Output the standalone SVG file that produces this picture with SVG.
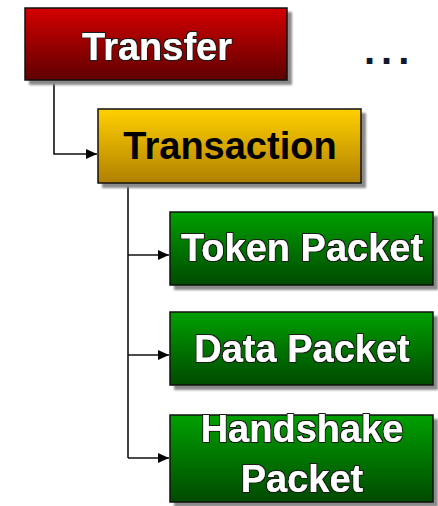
<svg xmlns="http://www.w3.org/2000/svg" width="438" height="506" viewBox="0 0 438 506">
  <defs>
    <linearGradient id="gRed" x1="0" y1="0" x2="0" y2="1">
      <stop offset="0" stop-color="#d40000"/>
      <stop offset="1" stop-color="#5e0000"/>
    </linearGradient>
    <linearGradient id="gGold" x1="0" y1="0" x2="0" y2="1">
      <stop offset="0" stop-color="#ffd000"/>
      <stop offset="1" stop-color="#b08000"/>
    </linearGradient>
    <linearGradient id="gGreen" x1="0" y1="0" x2="0" y2="1">
      <stop offset="0" stop-color="#00a000"/>
      <stop offset="1" stop-color="#004a00"/>
    </linearGradient>
    <filter id="shadow" x="-10%" y="-10%" width="130%" height="140%">
      <feGaussianBlur stdDeviation="1.2"/>
    </filter>
    <filter id="glow" x="-5%" y="-20%" width="110%" height="140%">
      <feMorphology in="SourceAlpha" operator="dilate" radius="0.8" result="thick"/>
      <feGaussianBlur in="thick" stdDeviation="0.6" result="blur"/>
      <feFlood flood-color="#1a1a1a"/>
      <feComposite in2="blur" operator="in" result="edge"/>
      <feMerge>
        <feMergeNode in="edge"/>
        <feMergeNode in="SourceGraphic"/>
      </feMerge>
    </filter>
    <marker id="arrow" viewBox="0 0 11 10" refX="11" refY="5" markerWidth="11" markerHeight="10" markerUnits="userSpaceOnUse" orient="auto">
      <path d="M0,0 L11,5 L0,10 Z" fill="#000"/>
    </marker>
  </defs>
  <style>
    .shade { fill: #8a8a8a; filter: url(#shadow); }
    .box { stroke: #111; stroke-width: 1.5; }
    .label { font-family: "Liberation Sans", Arial, sans-serif; font-weight: bold; font-size: 38px; text-anchor: middle; }
    .light { fill: #ffffff; filter: url(#glow); }
    .dark { fill: #000000; }
    .conn { fill: none; stroke: #111; stroke-width: 1.6; }
  </style>

  <rect width="438" height="506" fill="#ffffff"/>

  <!-- connectors -->
  <g id="connectors">
    <path class="conn" d="M54,80 V154 H97" marker-end="url(#arrow)"/>
    <path class="conn" d="M128,183 V458"/>
    <path class="conn" d="M128,255 H169" marker-end="url(#arrow)"/>
    <path class="conn" d="M128,355 H169" marker-end="url(#arrow)"/>
    <path class="conn" d="M128,458 H169" marker-end="url(#arrow)"/>
  </g>

  <g id="transfer">
    <rect class="shade" x="29" y="12" width="263" height="73"/>
    <rect class="box" x="25" y="8" width="262" height="72" fill="url(#gRed)"/>
    <text class="label light" x="157" y="60">Transfer</text>
  </g>

  <g id="ellipsis">
    <text x="364" y="64" font-family="Liberation Sans, Arial, sans-serif" font-weight="bold" font-size="40" letter-spacing="6" fill="#101830">...</text>
  </g>

  <g id="transaction">
    <rect class="shade" x="102" y="113" width="264" height="75"/>
    <rect class="box" x="98" y="109" width="263" height="74" fill="url(#gGold)"/>
    <text class="label dark" x="230" y="159">Transaction</text>
  </g>

  <g id="token-packet">
    <rect class="shade" x="174" y="216" width="264" height="74"/>
    <rect class="box" x="170" y="212" width="263" height="73" fill="url(#gGreen)"/>
    <text class="label light" x="302" y="261">Token Packet</text>
  </g>

  <g id="data-packet">
    <rect class="shade" x="174" y="316" width="264" height="74"/>
    <rect class="box" x="170" y="312" width="263" height="73" fill="url(#gGreen)"/>
    <text class="label light" x="302" y="362">Data Packet</text>
  </g>

  <g id="handshake-packet">
    <rect class="shade" x="174" y="419" width="264" height="88"/>
    <rect class="box" x="170" y="415" width="263" height="87" fill="url(#gGreen)"/>
    <text class="label light" x="302" y="442">Handshake</text>
    <text class="label light" x="302" y="492">Packet</text>
  </g>
</svg>
